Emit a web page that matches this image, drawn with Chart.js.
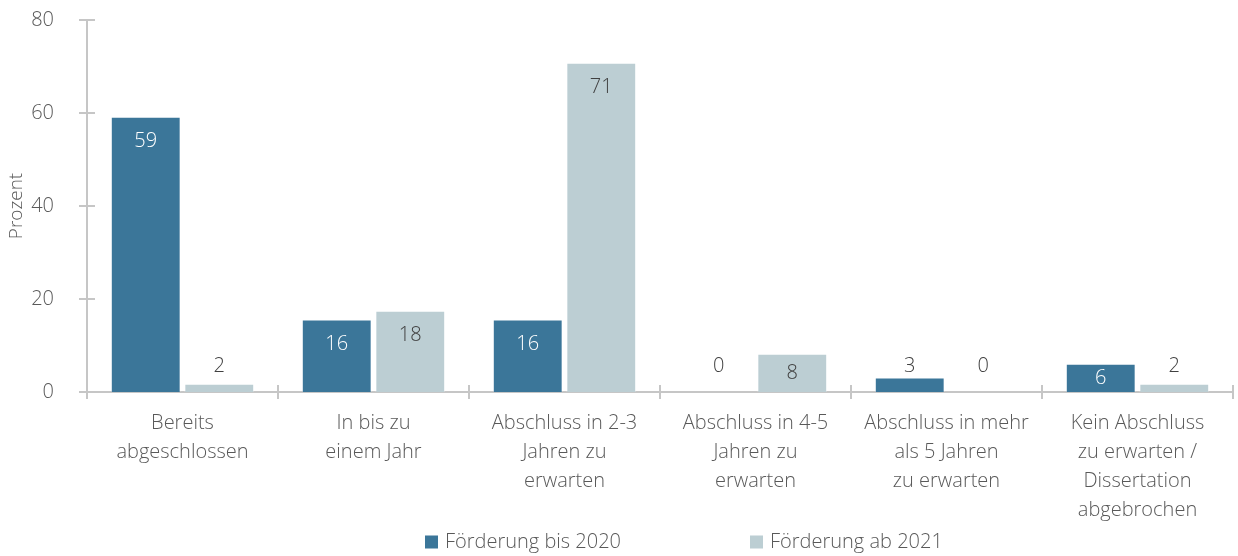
<!DOCTYPE html>
<html>
<head>
<meta charset="utf-8">
<script src="https://cdn.jsdelivr.net/npm/chart.js@4.4.1/dist/chart.umd.min.js"></script>
<style>
  html, body { margin: 0; padding: 0; background: #fff; }
  #wrap { width: 1238px; height: 556px; position: relative; }
</style>
</head>
<body>
<div id="wrap"><canvas id="chart"></canvas></div>
<script>
/** Data **/
const categories = [
    ['Bereits', 'abgeschlossen'],
    ['In bis zu', 'einem Jahr'],
    ['Abschluss in 2-3', 'Jahren zu', 'erwarten'],
    ['Abschluss in 4-5', 'Jahren zu', 'erwarten'],
    ['Abschluss in mehr', 'als 5 Jahren', 'zu erwarten'],
    ['Kein Abschluss', 'zu erwarten /', 'Dissertation', 'abgebrochen']
];
const series_names = ['Förderung bis 2020', 'Förderung ab 2021'];
const values_bis_2020 = [59.2, 15.6, 15.6, 0, 3.1, 6.1];
const values_ab_2021 = [1.8, 17.5, 70.8, 8.2, 0, 1.8];
const y_ticks = [0, 20, 40, 60, 80];

/** Colors **/
const color_dark_blue = "#3B7699";
const color_light_blue = "#BCCED3";
const axis_color = "#C6C6C6";
const text_color = "#595959";
const label_dark = "#404040";

const font_family = "'Open Sans', 'Noto Sans', sans-serif";
const font_size = 20;

/* Value labels, "inside end" like in office charts */
const value_labels = {
    id: 'value_labels',
    afterDatasetsDraw(chart) {
        const ctx = chart.ctx;
        ctx.save();
        ctx.font = "300 " + font_size + "px " + font_family;
        ctx.textAlign = 'center';
        ctx.textBaseline = 'middle';
        chart.data.datasets.forEach(function(ds, di) {
            chart.getDatasetMeta(di).data.forEach(function(bar, i) {
                const h = bar.base - bar.y;
                let y, color;
                if (h < 22) {
                    y = bar.base - 26;
                    color = label_dark;
                } else {
                    y = Math.min(bar.y + 25, (bar.y + bar.base) / 2);
                    color = di === 0 ? "#ffffff" : label_dark;
                }
                ctx.fillStyle = color;
                ctx.fillText(String(Math.round(ds.data[i])), bar.x, y);
            });
        });
        ctx.restore();
    }
};

/* Crossing tick marks on both axes */
const cross_ticks = {
    id: 'cross_ticks',
    afterDraw(chart) {
        const ctx = chart.ctx;
        const xs = chart.scales.x, ys = chart.scales.y;
        ctx.save();
        ctx.strokeStyle = axis_color;
        ctx.lineWidth = 2;
        ctx.beginPath();
        ys.ticks.forEach(function(t, i) {
            const y = ys.getPixelForTick(i);
            ctx.moveTo(xs.left - 8, y);
            ctx.lineTo(xs.left + 8, y);
        });
        for (let i = 0; i <= categories.length; i++) {
            const x = xs.getPixelForValue(i - 0.5);
            ctx.moveTo(x, ys.bottom - 7);
            ctx.lineTo(x, ys.bottom + 7);
        }
        ctx.stroke();
        ctx.restore();
    }
};

/* Legend spaced like the original */
const legend_left = [425, 750];
const wide_legend = {
    id: 'wide_legend',
    afterDraw(chart) {
        const ctx = chart.ctx;
        const box = 13, box_gap = 7, y = 542;
        ctx.save();
        ctx.font = "300 " + font_size + "px " + font_family;
        ctx.textBaseline = 'middle';
        ctx.textAlign = 'left';
        chart.data.datasets.forEach(function(ds, i) {
            const x = legend_left[i];
            ctx.fillStyle = ds.backgroundColor;
            ctx.fillRect(x, y - box / 2, box, box);
            ctx.fillStyle = text_color;
            ctx.fillText(ds.label, x + box + box_gap, y);
        });
        ctx.restore();
    }
};

new Chart(document.getElementById('chart'), {
    type: 'bar',
    data: {
        labels: categories,
        datasets: [{
            label: series_names[0],
            data: values_bis_2020,
            backgroundColor: color_dark_blue,
            borderColor: 'rgba(255,255,255,0.3)',
            borderWidth: 1,
            categoryPercentage: 0.77,
            barPercentage: 0.95
        }, {
            label: series_names[1],
            data: values_ab_2021,
            backgroundColor: color_light_blue,
            borderColor: 'rgba(255,255,255,0.3)',
            borderWidth: 1,
            categoryPercentage: 0.77,
            barPercentage: 0.95
        }]
    },
    options: {
        responsive: true,
        maintainAspectRatio: false,
        animation: false,
        layout: { padding: { top: 0, right: 5, left: 0, bottom: 0 } },
        plugins: {
            legend: { display: false },
            tooltip: { enabled: false }
        },
        scales: {
            x: {
                grid: { display: false },
                border: { display: true, color: axis_color, width: 2 },
                ticks: {
                    color: text_color,
                    padding: 9,
                    maxRotation: 0,
                    autoSkip: false,
                    font: { family: font_family, size: font_size, weight: 300, lineHeight: 1.45 }
                },
                afterFit(scale) { scale.height = 164; }
            },
            y: {
                min: 0,
                max: 80,
                afterBuildTicks(scale) { scale.ticks = y_ticks.map(v => ({ value: v })); },
                grid: { display: false },
                border: { display: true, color: axis_color, width: 2 },
                ticks: {
                    color: text_color,
                    padding: 25,
                    font: { family: font_family, size: font_size, weight: 300 }
                },
                title: {
                    display: true,
                    text: 'Prozent',
                    color: text_color,
                    padding: { top: 5, bottom: 0 },
                    font: { family: font_family, size: 19, weight: 300 }
                },
                afterFit(scale) {
                    scale.width = 87;
                    scale.paddingTop = 20;
                }
            }
        }
    },
    plugins: [value_labels, cross_ticks, wide_legend]
});
</script>
</body>
</html>
